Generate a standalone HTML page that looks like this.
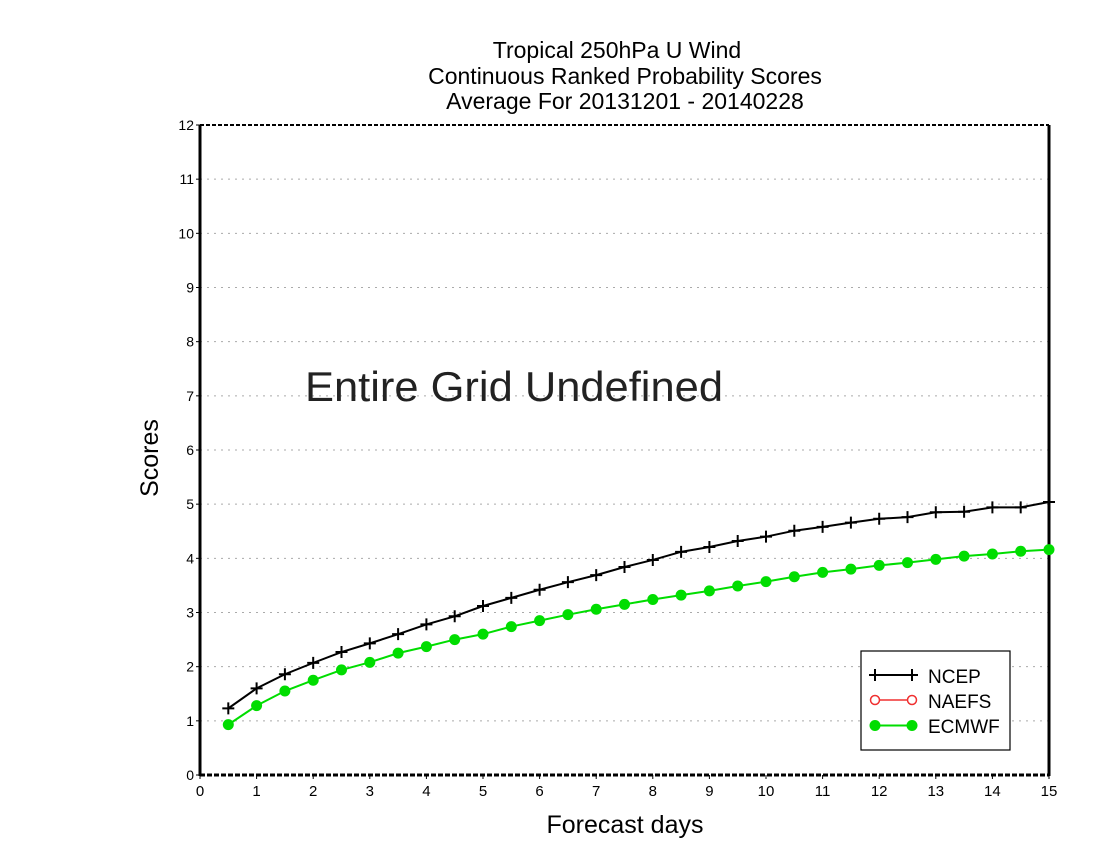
<!DOCTYPE html>
<html><head><meta charset="utf-8"><style>
html,body{margin:0;padding:0;background:#fff;}
svg{display:block;font-family:"Liberation Sans",sans-serif;}
</style></head><body>
<svg id="chart" width="1100" height="850" viewBox="0 0 1100 850">
<g font-size="23" text-anchor="middle" fill="#000">
<text x="617" y="58">Tropical 250hPa U Wind</text>
<text x="625" y="84">Continuous Ranked Probability Scores</text>
<text x="625" y="109">Average For 20131201 - 20140228</text>
</g>
<g id="grid"></g>
<g id="axes"></g>
<text x="305" y="401" font-size="42" textLength="418" lengthAdjust="spacingAndGlyphs" fill="#222">Entire Grid Undefined</text>
<text transform="translate(158,458) rotate(-90)" font-size="25" text-anchor="middle">Scores</text>
<text x="625" y="833" font-size="25" text-anchor="middle">Forecast days</text>
<g id="series"></g>
<g>
<rect x="861" y="651" width="149" height="99" fill="#fff" stroke="#000" stroke-width="1.2"/>
<g>
<line x1="875" y1="675" x2="912" y2="675" stroke="#000" stroke-width="2"/>
<path d="M875 669V681M869 675H881M912 669V681M906 675H918" stroke="#000" stroke-width="2"/>
<text x="928" y="683" font-size="19">NCEP</text></g>
<g>
<line x1="875" y1="700" x2="912" y2="700" stroke="#f03030" stroke-width="1.5"/>
<circle cx="875" cy="700" r="4.5" fill="#fff" stroke="#f03030" stroke-width="1.5"/>
<circle cx="912" cy="700" r="4.5" fill="#fff" stroke="#f03030" stroke-width="1.5"/>
<text x="928" y="708" font-size="19">NAEFS</text></g>
<g>
<line x1="875" y1="725.5" x2="912" y2="725.5" stroke="#00dd00" stroke-width="2"/>
<circle cx="875" cy="725.5" r="5.5" fill="#00dd00"/>
<circle cx="912" cy="725.5" r="5.5" fill="#00dd00"/>
<text x="928" y="733" font-size="19">ECMWF</text></g>
</g>
</svg>
<script>
const days=[0.5,1,1.5,2,2.5,3,3.5,4,4.5,5,5.5,6,6.5,7,7.5,8,8.5,9,9.5,10,10.5,11,11.5,12,12.5,13,13.5,14,14.5,15];
const ncep=[1.23,1.60,1.86,2.07,2.27,2.43,2.60,2.78,2.93,3.12,3.27,3.42,3.56,3.69,3.84,3.97,4.12,4.21,4.32,4.40,4.51,4.58,4.66,4.73,4.76,4.85,4.86,4.94,4.94,5.04];
const ecmwf=[0.93,1.28,1.55,1.75,1.94,2.08,2.25,2.37,2.50,2.60,2.74,2.85,2.96,3.06,3.15,3.24,3.32,3.40,3.49,3.57,3.66,3.74,3.80,3.87,3.92,3.98,4.04,4.08,4.13,4.16];
const xTicks=[0,1,2,3,4,5,6,7,8,9,10,11,12,13,14,15];
const yTicks=[0,1,2,3,4,5,6,7,8,9,10,11,12];
const NS="http://www.w3.org/2000/svg";
const X0=200,X1=1049,Y0=775,Y1=125;
const xs=v=>X0+(v-0)/15*(X1-X0);
const ys=v=>Y0-(v-0)/12*(Y0-Y1);
function mk(tag,attrs,parent){const e=document.createElementNS(NS,tag);for(const k in attrs)e.setAttribute(k,attrs[k]);parent.appendChild(e);return e;}
const gridG=document.getElementById('grid'),axesG=document.getElementById('axes'),seriesG=document.getElementById('series');
yTicks.forEach(t=>{
 if(t>0&&t<12){const g=mk('line',{x1:X0,x2:X1,y1:ys(t),y2:ys(t),stroke:'#aaa','stroke-dasharray':'2,5'},gridG);
 
 }
 const tk=mk('line',{x1:X0-4,x2:X0,y1:ys(t),y2:ys(t),stroke:'#000'},axesG);
 
 
 const lb=mk('text',{x:X0-6,y:ys(t)+5,'font-size':14,'text-anchor':'end'},axesG);
 lb.textContent=t;
 
 
});
xTicks.forEach(t=>{
 const tk=mk('line',{x1:xs(t),x2:xs(t),y1:Y0,y2:Y0+4,stroke:'#000'},axesG);
 
 
 const lb=mk('text',{x:xs(t),y:Y0+21,'font-size':15,'text-anchor':'middle'},axesG);
 lb.textContent=t;
 
 
});
const topB=mk('line',{x1:X0,x2:X1,y1:Y1,y2:Y1,stroke:'#000','stroke-width':2,'stroke-dasharray':'4,2'},axesG);


const botB=mk('line',{x1:X0,x2:X1,y1:Y0,y2:Y0,stroke:'#000','stroke-width':3,'stroke-dasharray':'5,2'},axesG);


const lftB=mk('line',{x1:X0,x2:X0,y1:Y1,y2:Y0+1,stroke:'#000','stroke-width':3},axesG);


const rgtB=mk('line',{x1:X1,x2:X1,y1:Y1,y2:Y0+1,stroke:'#000','stroke-width':3},axesG);


const ep=mk('polyline',{points:days.map((d,i)=>xs(d)+','+ys(ecmwf[i])).join(' '),fill:'none',stroke:'#00dd00','stroke-width':2},seriesG);


days.forEach((d,i)=>{const c=mk('circle',{cx:xs(d),cy:ys(ecmwf[i]),r:5.5,fill:'#00dd00'},seriesG);
 
 });
const np=mk('polyline',{points:days.map((d,i)=>xs(d)+','+ys(ncep[i])).join(' '),fill:'none',stroke:'#000','stroke-width':2},seriesG);


days.forEach((d,i)=>{const x=xs(d),y=ys(ncep[i]);
 const p=mk('path',{d:`M${x} ${y-6}V${y+6}M${x-6} ${y}H${x+6}`,stroke:'#000','stroke-width':2},seriesG);
 
 });
</script>
</body></html>
